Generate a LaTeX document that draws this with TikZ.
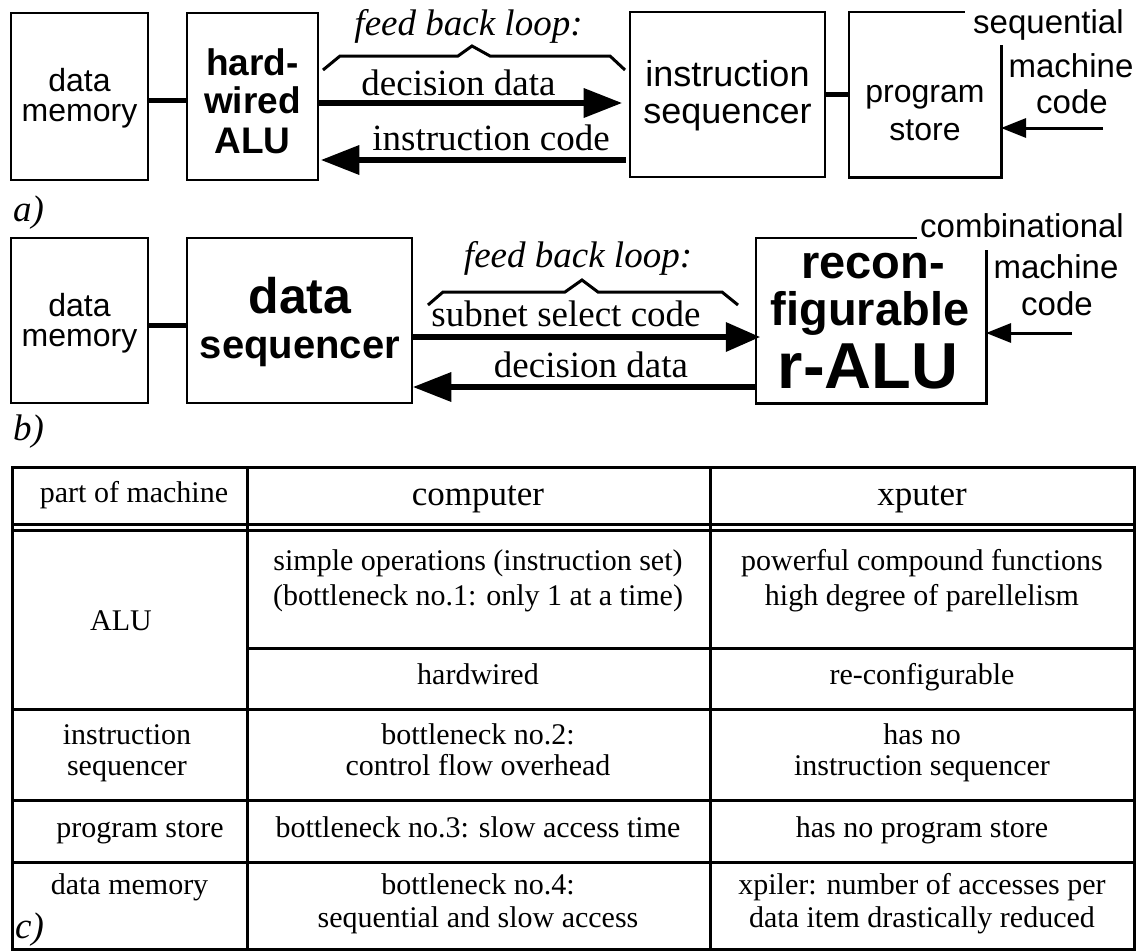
\documentclass[tikz,border=0pt]{standalone}
\usepackage{fontspec}
\setmainfont{Liberation Serif}
\setsansfont{Liberation Sans}
\usetikzlibrary{arrows.meta}
\newcommand{\fsz}[1]{\fontsize{#1}{#1}\selectfont}
\begin{document}
\begin{tikzpicture}[x=1pt,y=-1pt,
  boxline/.style={line width=2.6pt},
  blk/.style={draw, line width=2.6pt, inner sep=0pt},
  open/.style={inner sep=0pt},
  conn/.style={line width=5pt},
  bigarrow/.style={line width=6pt, -{Triangle[length=38pt,width=30pt,line width=0pt]}},
  midarrow/.style={line width=6pt, -{Triangle[length=34pt,width=30pt,line width=0pt]}},
  thinarrow/.style={line width=3pt, -{Triangle[length=25pt,width=20pt,line width=0pt]}},
  bracel/.style={line width=3pt},
  serlab/.style={font=\fsz{37}, anchor=base, inner sep=0pt},
  itlab/.style={font=\fsz{37}\itshape, anchor=base, inner sep=0pt},
  sanlab/.style={font=\sffamily\fsz{32}, anchor=base, inner sep=0pt},
  sidelab/.style={font=\sffamily\fsz{33}, anchor=base, inner sep=0pt},
  boldlab/.style={font=\sffamily\bfseries\fsz{#1}, anchor=base, inner sep=0pt},
  tab/.style={font=\fsz{30}, anchor=base, inner sep=0pt},
  tabhead/.style={font=\fsz{35}, anchor=base, inner sep=0pt},
  tline/.style={line width=3pt},
  dline/.style={line width=2.3pt}
]
\fill[white] (0,0) rectangle (1138,951);
\useasboundingbox (0,0) rectangle (1138,951);

% ---------------- row a ----------------
\node[blk, minimum width=137pt, minimum height=167pt] (dmA) at (79.5,96.5) {};
\node[blk, minimum width=131pt, minimum height=167pt] (aluA) at (252.5,96.5) {};
\node[blk, minimum width=195pt, minimum height=165pt] (iseq) at (727.5,94.5) {};
\node[open, minimum width=152pt, minimum height=165pt] (ps) at (925,94.5) {};
\draw[boxline] ([xshift=116pt]ps.north west) -- (ps.north west) -- (ps.south west)
  -- (ps.south east) -- ([yshift=-33pt]ps.north east);

\node[sanlab] (dmA1) at (79.5,91) {data};
\node[sanlab] (dmA2) at (79.5,121) {memory};
\node[boldlab=37] (aluA1) at (252.5,75) {hard-};
\node[boldlab=37] (aluA2) at (252.5,113) {wired};
\node[boldlab=37] (aluA3) at (252.5,153) {ALU};
\node[sanlab, font=\sffamily\fsz{36}] (iseq1) at (727.5,86) {instruction};
\node[sanlab, font=\sffamily\fsz{36}] (iseq2) at (727.5,123) {sequencer};
\node[sanlab] (ps1) at (925,102) {program};
\node[sanlab] (ps2) at (925,140) {store};
\node[sidelab, anchor=base west] (seqA) at (973,33) {sequential};
\node[sidelab] (mchA) at (1071,77) {machine};
\node[sidelab] (codA) at (1072,113) {code};

\draw[conn] ([yshift=-3.5pt]dmA.east) -- ([yshift=-3.5pt]aluA.west);
\draw[conn] (iseq.east) -- (ps.west);
\draw[bigarrow] ([yshift=-6.5pt]aluA.east) -- ([yshift=-8.5pt,xshift=-7pt]iseq.west);
\draw[bigarrow] ([yshift=-65.5pt,xshift=-3pt]iseq.west) -- ([yshift=-63.5pt,xshift=2pt]aluA.east);
\coordinate (mcA) at (1103,128);
\draw[thinarrow] (mcA) -- (ps.east |- mcA);

\draw[bracel] (323,70) -- (340,56) -- (458,56) -- (472,46) -- (490,56) -- (610,56) -- (625,70);
\node[itlab] (fbA) at (468.5,35) {feed back loop:};
\node[serlab] (ddA) at (458.5,95) {decision data};
\node[serlab] (icA) at (491,150) {instruction code};
\node[itlab, anchor=base west] (labA) at (13,221) {a)};

% ---------------- row b ----------------
\node[blk, minimum width=137pt, minimum height=165pt] (dmB) at (79.5,320.5) {};
\node[blk, minimum width=225pt, minimum height=165pt] (dseq) at (299.5,320.5) {};
\node[open, minimum width=230pt, minimum height=165pt] (ra) at (871,320.5) {};
\draw[boxline] ([xshift=161pt]ra.north west) -- (ra.north west) -- (ra.south west)
  -- (ra.south east) -- ([yshift=-12pt]ra.north east);

\node[sanlab] (dmB1) at (79.5,316) {data};
\node[sanlab] (dmB2) at (79.5,346) {memory};
\node[boldlab=50] (dseq1) at (300,313) {data};
\node[boldlab=40] (dseq2) at (300,358) {sequencer};
\node[boldlab=47] (ra1) at (873,278) {recon-};
\node[boldlab=47] (ra2) at (870,325) {figurable};
\node[boldlab=65] (ra3) at (868,388) {r-ALU};
\node[sidelab, anchor=base west] (cmbB) at (920,237) {combinational};
\node[sidelab] (mchB) at (1056,278) {machine};
\node[sidelab] (codB) at (1057,315) {code};

\draw[conn] ([yshift=-4.5pt]dmB.east) -- ([yshift=-4.5pt]dseq.west);
\draw[midarrow] ([yshift=-16.5pt]dseq.east) -- ([yshift=-16.5pt,xshift=4pt]ra.west);
\draw[bigarrow] ([yshift=-66.5pt]ra.west) -- ([yshift=-66.5pt]dseq.east);
\coordinate (mcB) at (1072,333);
\draw[thinarrow] (mcB) -- (ra.east |- mcB);

\draw[bracel] (428,305) -- (443,292) -- (565,292) -- (582,280) -- (598,292) -- (722,292) -- (738,305);
\node[itlab] (fbB) at (578,267) {feed back loop:};
\node[serlab] (ssB) at (566,326) {subnet select code};
\node[serlab] (ddB) at (591,377) {decision data};
\node[itlab, anchor=base west] (labB) at (13,440) {b)};

% ---------------- table c ----------------
\draw[tline] (12,467) rectangle (1134,949.5);
\draw[tline] (247,467) -- (247,949.5);
\draw[tline] (710,467) -- (710,949.5);
\draw[dline] (12,524.5) -- (1134,524.5);
\draw[dline] (12,530.5) -- (1134,530.5);
\draw[tline] (247,648) -- (1134,648);
\draw[tline] (12,709) -- (1134,709);
\draw[tline] (12,800) -- (1134,800);
\draw[tline] (12,862) -- (1134,862);

\node[tab] (h1) at (134,502) {part of machine};
\node[tabhead] (h2) at (478,505) {computer};
\node[tabhead] (h3) at (922,505) {xputer};

\node[tab] (r1a) at (121,630) {ALU};
\node[tab] (r1b) at (478,570) {simple operations (instruction set)};
\node[tab] (r1c) at (478,605) {(bottleneck no.1: only 1 at a time)};
\node[tab] (r1d) at (922,570) {powerful compound functions};
\node[tab] (r1e) at (922,605) {high degree of parellelism};
\node[tab] (r1f) at (478,684) {hardwired};
\node[tab] (r1g) at (922,684) {re-configurable};

\node[tab] (r2a) at (127,744) {instruction};
\node[tab] (r2b) at (127,775) {sequencer};
\node[tab] (r2c) at (478,744) {bottleneck no.2:};
\node[tab] (r2d) at (478,775) {control flow overhead};
\node[tab] (r2e) at (922,744) {has no};
\node[tab] (r2f) at (922,775) {instruction sequencer};

\node[tab] (r3a) at (140,837) {program store};
\node[tab] (r3b) at (478,837) {bottleneck no.3: slow access time};
\node[tab] (r3c) at (922,837) {has no program store};

\node[tab] (r4a) at (129.5,894) {data memory};
\node[tab] (r4b) at (478,894) {bottleneck no.4:};
\node[tab] (r4c) at (478,927) {sequential and slow access};
\node[tab] (r4d) at (922,894) {xpiler: number of accesses per};
\node[tab] (r4e) at (922,927) {data item drastically reduced};
\node[itlab, anchor=base west] (labC) at (15,938) {c)};
\end{tikzpicture}
\end{document}
